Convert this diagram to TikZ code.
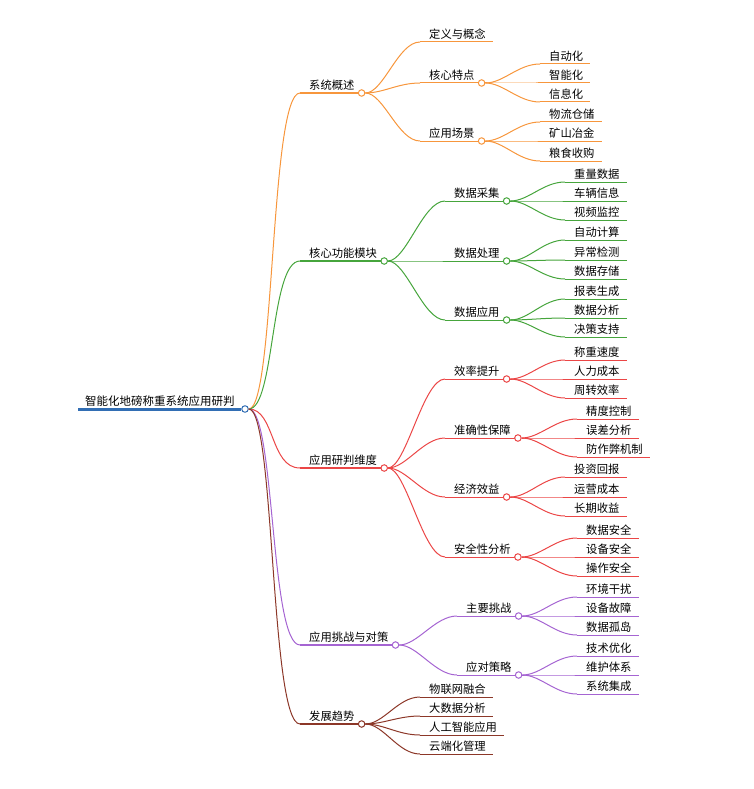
\documentclass[tikz,border=0pt]{standalone}
\usepackage{fontspec}
\setmainfont{Noto Sans CJK SC}
\definecolor{cR}{RGB}{50,110,180}
\definecolor{cO}{RGB}{247,150,60}
\definecolor{cG}{RGB}{70,165,60}
\definecolor{cD}{RGB}{235,70,70}
\definecolor{cP}{RGB}{165,100,210}
\definecolor{cB}{RGB}{140,55,40}
\tikzset{
  lbl/.style={anchor=south west,inner xsep=0pt,inner ysep=2.5pt,font=\fontsize{11.3}{12}\selectfont,text=black},
  dot/.style={circle,draw=#1,fill=white,line width=1pt,inner sep=2.3pt},
  conn/.style={draw=#1,line width=1pt},
}
\newcommand{\tp}[6]{%
  \node[lbl] (#1) at (#2+9,#3) {#4};
  \coordinate (#1s) at (#2,#3);
  \coordinate (#1e) at ([xshift=7pt]#1.south east);
  \draw[#5,line width=#6] (#1s) -- (#1e);}
\newcommand{\kn}[2]{\node[dot=#2] (#1c) at (#1e) {};}
\newcommand{\lk}[3]{\draw[conn=#3] (#1c) .. controls +(22,0) and +(-22,0) .. (#2s);}
\begin{document}
\begin{tikzpicture}[x=1pt,y=-1pt]
\useasboundingbox (0,0) rectangle (753,789);
% root
\node[lbl,font=\fontsize{11.5}{12}\selectfont] (r) at (85,409) {智能化地磅称重系统应用研判};
\coordinate (rs) at (78,409);
\node[dot=cR] (rc) at (245,409) {};
\draw[cR,line width=3pt] (rs) -- (rc.west);
% level 1
\tp{a}{300}{93}{系统概述}{cO}{1.6pt}\kn{a}{cO}
\tp{b}{300}{261}{核心功能模块}{cG}{1.6pt}\kn{b}{cG}
\tp{c}{300}{468}{应用研判维度}{cD}{1.6pt}\kn{c}{cD}
\tp{d}{300}{645}{应用挑战与对策}{cP}{1.6pt}\kn{d}{cP}
\tp{e}{300}{724}{发展趋势}{cB}{1.6pt}\kn{e}{cB}
\draw[conn=cO] (rc) .. controls +(30,0) and +(-30,0) .. (as);
\draw[conn=cG] (rc) .. controls +(30,0) and +(-30,0) .. (bs);
\draw[conn=cD] (rc) .. controls +(30,0) and +(-30,0) .. (cs);
\draw[conn=cP] (rc) .. controls +(30,0) and +(-30,0) .. (ds);
\draw[conn=cB] (rc) .. controls +(30,0) and +(-30,0) .. (es);
% orange
\tp{a1}{420}{42}{定义与概念}{cO}{1pt}\lk{a}{a1}{cO}
\tp{a2}{420}{83}{核心特点}{cO}{1pt}\kn{a2}{cO}\lk{a}{a2}{cO}
\tp{a3}{420}{141}{应用场景}{cO}{1pt}\kn{a3}{cO}\lk{a}{a3}{cO}
\tp{a21}{540}{64}{自动化}{cO}{1pt}\lk{a2}{a21}{cO}
\tp{a22}{540}{83}{智能化}{cO}{1pt}\lk{a2}{a22}{cO}
\tp{a23}{540}{102}{信息化}{cO}{1pt}\lk{a2}{a23}{cO}
\tp{a31}{540}{122}{物流仓储}{cO}{1pt}\lk{a3}{a31}{cO}
\tp{a32}{540}{141}{矿山冶金}{cO}{1pt}\lk{a3}{a32}{cO}
\tp{a33}{540}{161}{粮食收购}{cO}{1pt}\lk{a3}{a33}{cO}
% green
\tp{b1}{445}{201}{数据采集}{cG}{1pt}\kn{b1}{cG}\lk{b}{b1}{cG}
\tp{b2}{445}{261}{数据处理}{cG}{1pt}\kn{b2}{cG}\lk{b}{b2}{cG}
\tp{b3}{445}{320}{数据应用}{cG}{1pt}\kn{b3}{cG}\lk{b}{b3}{cG}
\tp{b11}{565}{182}{重量数据}{cG}{1pt}\lk{b1}{b11}{cG}
\tp{b12}{565}{201}{车辆信息}{cG}{1pt}\lk{b1}{b12}{cG}
\tp{b13}{565}{220}{视频监控}{cG}{1pt}\lk{b1}{b13}{cG}
\tp{b21}{565}{240}{自动计算}{cG}{1pt}\lk{b2}{b21}{cG}
\tp{b22}{565}{260}{异常检测}{cG}{1pt}\lk{b2}{b22}{cG}
\tp{b23}{565}{279}{数据存储}{cG}{1pt}\lk{b2}{b23}{cG}
\tp{b31}{565}{299}{报表生成}{cG}{1pt}\lk{b3}{b31}{cG}
\tp{b32}{565}{318}{数据分析}{cG}{1pt}\lk{b3}{b32}{cG}
\tp{b33}{565}{337}{决策支持}{cG}{1pt}\lk{b3}{b33}{cG}
% red
\tp{c1}{445}{379}{效率提升}{cD}{1pt}\kn{c1}{cD}\lk{c}{c1}{cD}
\tp{c2}{445}{438}{准确性保障}{cD}{1pt}\kn{c2}{cD}\lk{c}{c2}{cD}
\tp{c3}{445}{497}{经济效益}{cD}{1pt}\kn{c3}{cD}\lk{c}{c3}{cD}
\tp{c4}{445}{557}{安全性分析}{cD}{1pt}\kn{c4}{cD}\lk{c}{c4}{cD}
\tp{c11}{565}{360}{称重速度}{cD}{1pt}\lk{c1}{c11}{cD}
\tp{c12}{565}{379}{人力成本}{cD}{1pt}\lk{c1}{c12}{cD}
\tp{c13}{565}{398}{周转效率}{cD}{1pt}\lk{c1}{c13}{cD}
\tp{c21}{577}{419}{精度控制}{cD}{1pt}\lk{c2}{c21}{cD}
\tp{c22}{577}{438}{误差分析}{cD}{1pt}\lk{c2}{c22}{cD}
\tp{c23}{577}{457}{防作弊机制}{cD}{1pt}\lk{c2}{c23}{cD}
\tp{c31}{565}{477}{投资回报}{cD}{1pt}\lk{c3}{c31}{cD}
\tp{c32}{565}{497}{运营成本}{cD}{1pt}\lk{c3}{c32}{cD}
\tp{c33}{565}{516}{长期收益}{cD}{1pt}\lk{c3}{c33}{cD}
\tp{c41}{577}{538}{数据安全}{cD}{1pt}\lk{c4}{c41}{cD}
\tp{c42}{577}{557}{设备安全}{cD}{1pt}\lk{c4}{c42}{cD}
\tp{c43}{577}{576}{操作安全}{cD}{1pt}\lk{c4}{c43}{cD}
% purple
\tp{d1}{457}{616}{主要挑战}{cP}{1pt}\kn{d1}{cP}\lk{d}{d1}{cP}
\tp{d2}{457}{675}{应对策略}{cP}{1pt}\kn{d2}{cP}\lk{d}{d2}{cP}
\tp{d11}{577}{597}{环境干扰}{cP}{1pt}\lk{d1}{d11}{cP}
\tp{d12}{577}{616}{设备故障}{cP}{1pt}\lk{d1}{d12}{cP}
\tp{d13}{577}{635}{数据孤岛}{cP}{1pt}\lk{d1}{d13}{cP}
\tp{d21}{577}{656}{技术优化}{cP}{1pt}\lk{d2}{d21}{cP}
\tp{d22}{577}{675}{维护体系}{cP}{1pt}\lk{d2}{d22}{cP}
\tp{d23}{577}{694}{系统集成}{cP}{1pt}\lk{d2}{d23}{cP}
% brown
\tp{e1}{420}{697}{物联网融合}{cB}{1pt}\lk{e}{e1}{cB}
\tp{e2}{420}{716}{大数据分析}{cB}{1pt}\lk{e}{e2}{cB}
\tp{e3}{420}{735}{人工智能应用}{cB}{1pt}\lk{e}{e3}{cB}
\tp{e4}{420}{754}{云端化管理}{cB}{1pt}\lk{e}{e4}{cB}
\end{tikzpicture}
\end{document}
